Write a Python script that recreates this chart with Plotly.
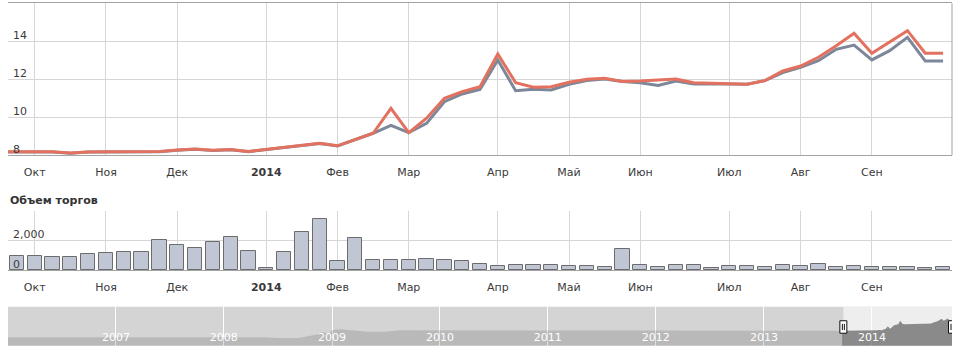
import plotly.graph_objects as go
import pandas as pd

# ---------------- data ----------------
weeks = ["2013-09-23", "2013-09-30", "2013-10-07", "2013-10-14", "2013-10-21", "2013-10-28",
         "2013-11-04", "2013-11-11", "2013-11-18", "2013-11-25", "2013-12-02", "2013-12-09",
         "2013-12-16", "2013-12-23", "2013-12-30", "2014-01-06", "2014-01-13", "2014-01-20",
         "2014-01-27", "2014-02-03", "2014-02-10", "2014-02-17", "2014-02-24", "2014-03-03",
         "2014-03-10", "2014-03-17", "2014-03-24", "2014-03-31", "2014-04-07", "2014-04-14",
         "2014-04-21", "2014-04-28", "2014-05-05", "2014-05-12", "2014-05-19", "2014-05-26",
         "2014-06-02", "2014-06-09", "2014-06-16", "2014-06-23", "2014-06-30", "2014-07-07",
         "2014-07-14", "2014-07-21", "2014-07-28", "2014-08-04", "2014-08-11", "2014-08-18",
         "2014-08-25", "2014-09-01", "2014-09-08", "2014-09-15", "2014-09-22", "2014-09-29"]

price_red = [8.19,
             8.19, 8.19, 8.19, 8.12, 8.18, 8.19, 8.19, 8.19, 8.20, 8.28,
             8.33, 8.26, 8.30, 8.20, 8.30, 8.40, 8.50, 8.63, 8.50, 8.84,
             9.16, 10.47, 9.19, 9.95, 11.00, 11.35, 11.61, 13.33, 11.82, 11.58,
             11.61, 11.84, 12.00, 12.05, 11.89, 11.91, 11.96, 12.02, 11.82, 11.79,
             11.74, 11.74, 11.93, 12.44, 12.70, 13.16, 13.77, 14.42, 13.37, 13.98,
             14.56, 13.37, 13.37]

price_gray = [8.18,
              8.18, 8.18, 8.18, 8.11, 8.17, 8.18, 8.18, 8.18, 8.19, 8.27,
              8.32, 8.25, 8.29, 8.19, 8.29, 8.39, 8.49, 8.62, 8.49, 8.83,
              9.16, 9.58, 9.19, 9.68, 10.82, 11.23, 11.47, 13.02, 11.40, 11.47,
              11.44, 11.74, 11.93, 12.02, 11.89, 11.82, 11.68, 11.91, 11.75, 11.77,
              11.74, 11.74, 11.93, 12.35, 12.63, 12.98, 13.58, 13.80, 13.02, 13.51,
              14.21, 12.96, 12.96]

volume = [None,
          980, 980, 890, 890, 1110, 1180, 1250, 1250, 2070, 1700,
          1520, 1930, 2250, 1320, 160, 1250, 2590, 3430, 615, 2200,
          680, 680, 680, 770, 680, 615, 430, 290, 360, 360,
          360, 290, 290, 225, 1450, 360, 225, 360, 360, 160,
          290, 290, 225, 360, 290, 430, 225, 290, 225, 225,
          225, 160, 225]

month_names = ["Янв", "Фев", "Мар", "Апр", "Май", "Июн",
               "Июл", "Авг", "Сен", "Окт", "Ноя", "Дек"]

price_ticks = [8, 10, 12, 14]
volume_ticks = [0, 2000, 4000]
volume_tick_labels = ["0", "2,000", ""]

nav_dates = ["2006-01-01", "2006-07-01", "2007-01-01", "2007-07-01", "2008-01-01",
             "2008-05-15", "2008-07-01", "2008-09-10", "2008-10-15", "2008-11-15",
             "2008-12-01", "2008-12-20", "2009-01-01", "2009-02-01", "2009-05-01",
             "2009-07-01", "2009-08-15", "2010-01-01", "2011-01-01", "2012-01-01",
             "2013-01-01", "2013-09-23"]
nav_vals = [4.8, 4.8, 4.8, 4.8, 4.8,
            4.8, 4.4, 4.4, 5.4, 6.3,
            7.5, 6.4, 8.6, 8.9, 7.7,
            7.6, 8.4, 8.3, 8.3, 8.3,
            8.3, 8.19]

nav_years = ["2007", "2008", "2009", "2010", "2011", "2012", "2013", "2014"]

# ---------------- derived ----------------
dts = pd.to_datetime(weeks)
xi = list(range(len(weeks)))
tickvals, ticktext = [], []
for i in range(2, len(dts)):
    if dts[i].month != dts[i - 1].month:
        tickvals.append(i)
        if dts[i].month == 1:
            ticktext.append("<b>%d</b>" % dts[i].year)
        else:
            ticktext.append(month_names[dts[i].month - 1])

sel_start = dts[0] + (dts[1] - dts[0]) / 2
nav_start = pd.Timestamp(nav_dates[0])
nav_end = dts[-1]

FONT = "DejaVu Sans"
TXT = "#3a3a3a"
GRID = "#d6d6d6"

fig = go.Figure()

# main price lines
fig.add_trace(go.Scatter(x=xi, y=price_gray, mode="lines", xaxis="x", yaxis="y",
                         line=dict(color="#7d879a", width=3), hoverinfo="skip"))
fig.add_trace(go.Scatter(x=xi, y=price_red, mode="lines", xaxis="x", yaxis="y",
                         line=dict(color="#e2725f", width=3), hoverinfo="skip"))

# volume bars
fig.add_trace(go.Bar(x=xi, y=volume, xaxis="x2", yaxis="y2", width=0.8,
                     marker=dict(color="#c0c6d4", line=dict(color="#6c6c6c", width=1)),
                     hoverinfo="skip"))

# navigator
fig.add_trace(go.Scatter(x=nav_dates, y=nav_vals, xaxis="x3", yaxis="y3", mode="lines",
                         fill="tozeroy", fillcolor="rgba(0,0,0,0.125)",
                         line=dict(width=0, color="rgba(0,0,0,0)"), hoverinfo="skip"))
fig.add_trace(go.Scatter(x=weeks, y=price_red, xaxis="x3", yaxis="y3", mode="lines",
                         fill="tozeroy", fillcolor="rgba(0,0,0,0.42)",
                         line=dict(width=0, color="rgba(0,0,0,0)"), hoverinfo="skip"))

W, H = 966, 355
xdom = [8 / W, 952 / W]

def ydom(top, bottom):
    return [1 - bottom / H, 1 - top / H]

xrange = [0.5, len(weeks) - 0.5]

fig.update_layout(
    width=W, height=H, autosize=False,
    margin=dict(l=0, r=0, t=0, b=0),
    paper_bgcolor="white", plot_bgcolor="rgba(0,0,0,0)",
    showlegend=False, bargap=0,
    font=dict(family=FONT, size=11, color=TXT),
    xaxis=dict(domain=xdom, range=xrange, tickvals=tickvals, ticktext=ticktext,
               showgrid=True, gridcolor=GRID, gridwidth=1, zeroline=False,
               showline=True, linecolor="#a3a3a3", linewidth=1, mirror=True,
               ticks="", ticklabelstandoff=6, tickfont=dict(family=FONT, size=11, color=TXT),
               anchor="y"),
    yaxis=dict(domain=ydom(3.3, 155.3), range=[8, 16], tickvals=price_ticks,
               showgrid=True, gridcolor=GRID, zeroline=False, showline=False,
               showticklabels=False, ticks="", anchor="x"),
    xaxis2=dict(domain=xdom, range=xrange, tickvals=tickvals, ticktext=ticktext,
                showgrid=True, gridcolor=GRID, zeroline=False,
                showline=True, linecolor="#a3a3a3", linewidth=1,
                ticks="", ticklabelstandoff=6, tickfont=dict(family=FONT, size=11, color=TXT),
                anchor="y2"),
    yaxis2=dict(domain=ydom(211, 270.3), range=[0, 4000], tickvals=volume_ticks,
                showgrid=True, gridcolor=GRID, zeroline=False, showline=False,
                showticklabels=False, ticks="", anchor="x2"),
    xaxis3=dict(domain=xdom, type="date", range=[nav_start, nav_end],
                tickvals=[y + "-01-01" for y in nav_years], ticktext=nav_years,
                showgrid=True, gridcolor="white", gridwidth=1, zeroline=False,
                showline=False, ticks="", ticklabelposition="inside",
                tickfont=dict(family=FONT, size=11, color="white"), anchor="y3"),
    yaxis3=dict(domain=ydom(306.7, 345.7), range=[0.4, 20.7], showgrid=False,
                showticklabels=False, zeroline=False, showline=False, anchor="x3"),
)

# y-axis labels drawn inside the plot, just above their gridlines
for v in price_ticks:
    fig.add_annotation(text=str(v), xref="x domain", yref="y", x=0, y=v,
                       xanchor="left", yanchor="middle", xshift=3, yshift=6,
                       showarrow=False, font=dict(family=FONT, size=11, color=TXT))
for v, t in zip(volume_ticks, volume_tick_labels):
    if t:
        fig.add_annotation(text=t, xref="x2 domain", yref="y2", x=0, y=v,
                           xanchor="left", yanchor="middle", xshift=3, yshift=6,
                           showarrow=False, font=dict(family=FONT, size=11, color=TXT))

shapes = [
    # right border of the price panel
    dict(type="line", xref="x domain", yref="y domain", x0=1, x1=1, y0=0, y1=1,
         line=dict(color="#a3a3a3", width=1), layer="above"),
    # navigator backgrounds
    dict(type="rect", xref="x3 domain", yref="y3 domain", x0=0, x1=1, y0=0, y1=1,
         fillcolor="#d4d4d4", line=dict(width=0), layer="below"),
    dict(type="rect", xref="x3", yref="y3 domain", x0=sel_start, x1=nav_end, y0=0, y1=1,
         fillcolor="#eeeeee", line=dict(width=0), layer="below"),
]
# navigator handles
for hx in [sel_start, nav_end]:
    shapes.append(dict(type="rect", xref="x3", yref="y3 domain", xsizemode="pixel",
                       xanchor=hx, x0=-3.5, x1=3.5, y0=0.32, y1=0.64,
                       fillcolor="white", line=dict(color="#111111", width=1), layer="above"))
    for dx in [-1, 1]:
        shapes.append(dict(type="line", xref="x3", yref="y3 domain", xsizemode="pixel",
                           xanchor=hx, x0=dx, x1=dx, y0=0.40, y1=0.56,
                           line=dict(color="#111111", width=1), layer="above"))
fig.update_layout(shapes=shapes)

fig.add_annotation(text="<b>Объем торгов</b>", xref="paper", yref="paper",
                   x=8 / W, y=1 - 200 / H, xanchor="left", yanchor="middle",
                   showarrow=False, font=dict(family=FONT, size=11, color="#333333"))

fig.write_html("out.html")
